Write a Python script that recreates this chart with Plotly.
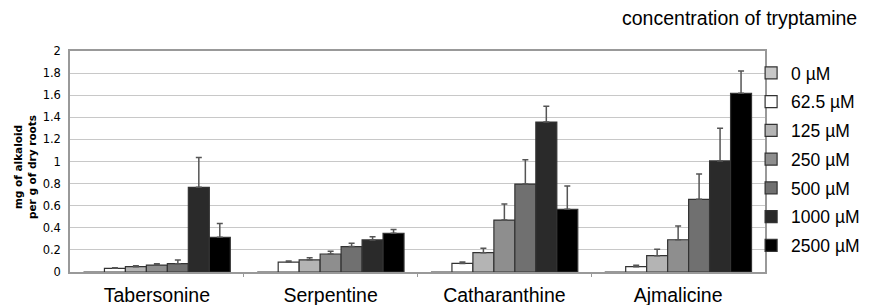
import plotly.graph_objects as go

categories = ["Tabersonine", "Serpentine", "Catharanthine", "Ajmalicine"]
series_names = ["0 µM", "62.5 µM", "125 µM", "250 µM", "500 µM", "1000 µM", "2500 µM"]

v_0 = [0, 0, 0, 0]
v_62 = [0.033, 0.09, 0.078, 0.048]
v_125 = [0.048, 0.11, 0.175, 0.148]
v_250 = [0.063, 0.163, 0.47, 0.292]
v_500 = [0.075, 0.23, 0.796, 0.658]
v_1000 = [0.766, 0.29, 1.357, 1.005]
v_2500 = [0.314, 0.35, 0.567, 1.617]

e_0 = [0, 0, 0, 0]
e_62 = [0.005, 0.01, 0.012, 0.012]
e_125 = [0.008, 0.02, 0.039, 0.057]
e_250 = [0.012, 0.024, 0.145, 0.124]
e_500 = [0.033, 0.03, 0.22, 0.229]
e_1000 = [0.27, 0.03, 0.143, 0.295]
e_2500 = [0.126, 0.035, 0.211, 0.203]

values = [v_0, v_62, v_125, v_250, v_500, v_1000, v_2500]
errors = [e_0, e_62, e_125, e_250, e_500, e_1000, e_2500]
colors = ["#c8c8c8", "#ffffff", "#b4b4b4", "#8e8e8e", "#707070", "#2a2a2a", "#000000"]

fig = go.Figure()
for i, (name, v, e, c) in enumerate(zip(series_names, values, errors, colors)):
    has_err = any(x > 0 for x in e)
    fig.add_trace(go.Bar(
        x=categories, y=v, name=name, legendgroup=f"g{i}",
        marker=dict(color=c, line=dict(color="#333333", width=1.2)),
        error_y=dict(type="data", symmetric=False, array=e, arrayminus=[0] * len(e),
                     color="#555555", thickness=1.5, width=3, visible=has_err),
    ))

# invisible trace to carry boundary ticks on an overlaid axis
fig.add_trace(go.Scatter(x=[0.5, 1.5, 2.5], y=[0, 0, 0], xaxis="x2", mode="markers",
                         marker=dict(opacity=0), showlegend=False, hoverinfo="skip"))

fig.update_layout(
    width=861, height=297,
    margin=dict(l=62, r=104, t=43, b=33, autoexpand=False),
    paper_bgcolor="white", plot_bgcolor="white",
    barmode="group", bargap=0.155, bargroupgap=0,
    font=dict(family="Liberation Sans, Arial, sans-serif", color="#000000"),
    xaxis=dict(
        showgrid=False, showline=True, linecolor="#999999", linewidth=1.5, mirror=True,
        ticks="", automargin=False, ticklabelstandoff=5,
        tickfont=dict(size=19.5, family="Liberation Sans, Arial, sans-serif", color="#000"),
    ),
    xaxis2=dict(overlaying="x", range=[-0.5, 3.5], tickvals=[0.5, 1.5, 2.5], ticks="outside",
                ticklen=4, tickcolor="#999999", showticklabels=False, showgrid=False,
                zeroline=False, side="bottom", anchor="y"),
    yaxis=dict(
        range=[0, 2], dtick=0.2, tickformat="~g", automargin=False, ticklabelstandoff=5,
        showgrid=True, gridcolor="#c8c8c8", gridwidth=1.2,
        showline=True, linecolor="#999999", linewidth=1.5, mirror=True,
        zeroline=False, ticks="",
        tickfont=dict(size=11.5, family="DejaVu Sans, Verdana, sans-serif", color="#000"),
    ),
    legend=dict(
        x=0.980, y=0.982, xanchor="left", yanchor="top",
        font=dict(size=17.5, family="Liberation Sans, Arial, sans-serif"),
        itemwidth=30, tracegroupgap=3,
        bgcolor="rgba(0,0,0,0)",
    ),
    annotations=[
        dict(text="concentration of tryptamine", xref="paper", yref="paper",
             x=1.1353, y=1.149, xanchor="right", yanchor="middle", showarrow=False,
             font=dict(size=19.5, family="Liberation Sans, Arial, sans-serif")),
        dict(text="<b>mg of alkaloid<br>per g of dry roots</b>", xref="paper", yref="paper",
             x=-0.0647, y=0.475, xanchor="center", yanchor="middle", showarrow=False,
             textangle=-90, font=dict(size=10.5, family="DejaVu Sans, Verdana, sans-serif")),
    ],
)

fig.write_html("out.html")
